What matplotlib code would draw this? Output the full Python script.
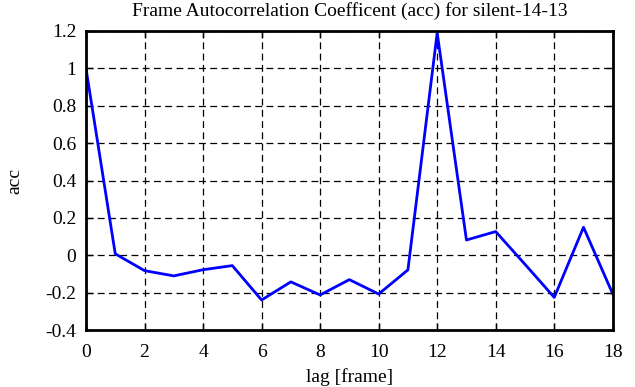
import matplotlib
matplotlib.use("Agg")
import matplotlib.pyplot as plt

# lag values and autocorrelation
lags = list(range(19))
acc = [1.0, 0.008, -0.082, -0.11, -0.077, -0.055, -0.239, -0.142, -0.212, -0.13,
       -0.207, -0.078, 1.19, 0.082, 0.127, -0.048, -0.225, 0.15, -0.207]

xticks = [0, 2, 4, 6, 8, 10, 12, 14, 16, 18]
yticks = [-0.4, -0.2, 0, 0.2, 0.4, 0.6, 0.8, 1, 1.2]
ytick_labels = ["-0.4", "-0.2", "0", "0.2", "0.4", "0.6", "0.8", "1", "1.2"]

plt.rcParams["font.family"] = ["Liberation Serif", "DejaVu Serif"]
plt.rcParams["font.size"] = 14

fig = plt.figure(figsize=(6.35, 3.87), dpi=100)
ax = fig.add_axes([0.1354, 0.147, 0.8296, 0.773])

ax.plot(lags, acc, color="#0000ff", lw=2)

ax.set_xlim(0, 18)
ax.set_ylim(-0.4, 1.2)
ax.set_xticks(xticks)
ax.set_yticks(yticks)
ax.set_yticklabels(ytick_labels)
ax.grid(True, color="black", linestyle=(0, (5.5, 3.5)), lw=0.9)
ax.tick_params(direction="in", length=5, width=1, top=True, right=True, pad=7)
ax.tick_params(axis="x", pad=10)
for s in ax.spines.values():
    s.set_linewidth(2)

ax.set_title("Frame Autocorrelation Coefficent (acc) for silent-14-13", fontsize=14, pad=11)
ax.set_xlabel("lag [frame]", labelpad=5)
ax.set_ylabel("acc", labelpad=16)

fig.savefig("out.png", dpi=100)
